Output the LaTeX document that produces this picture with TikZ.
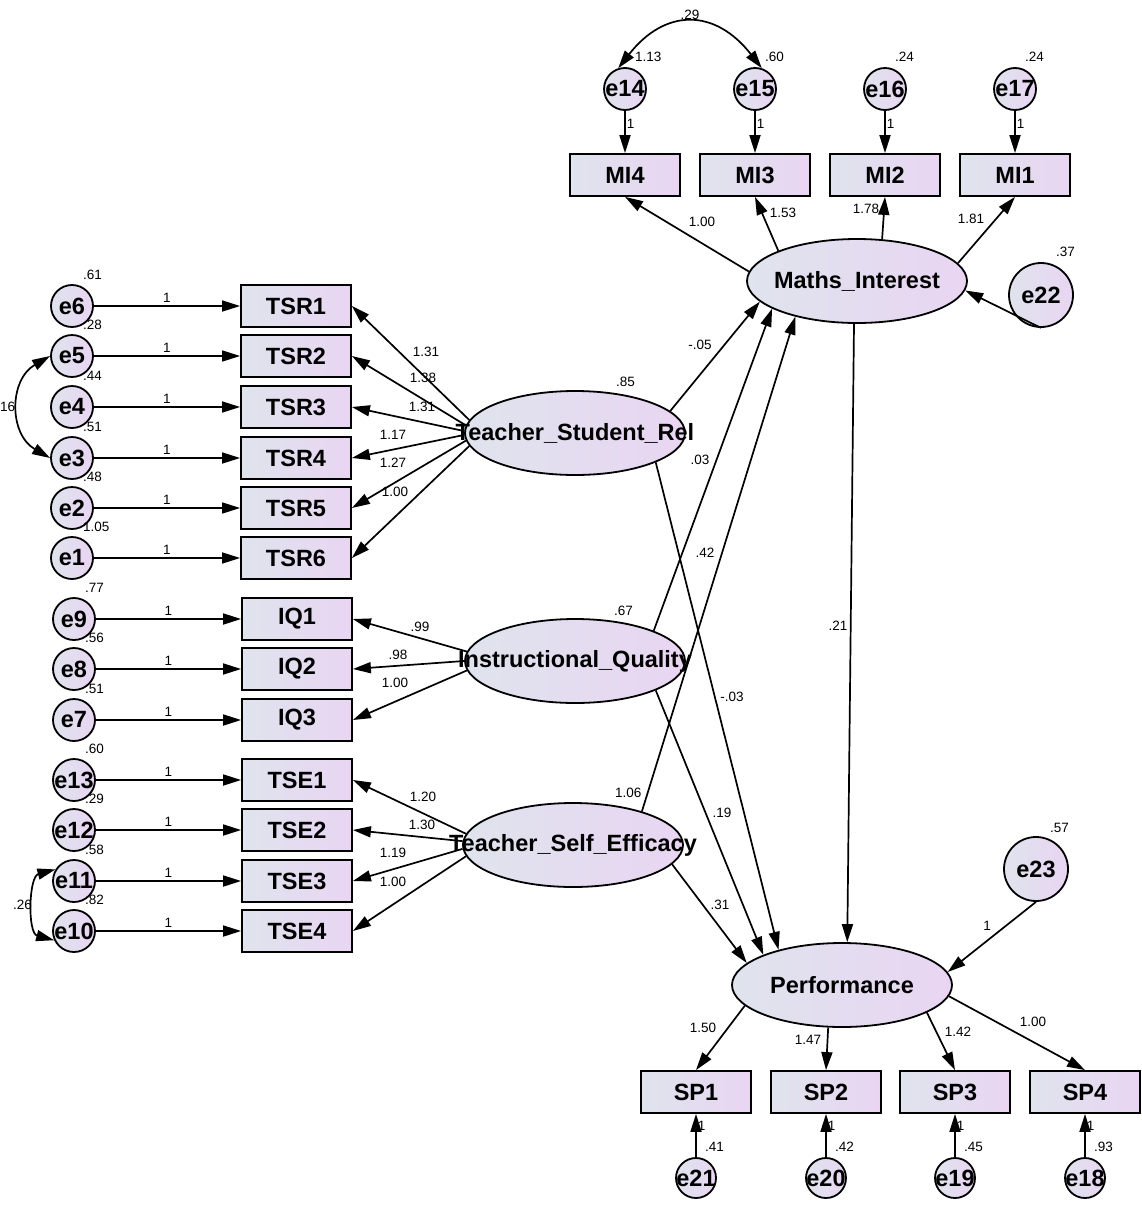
\documentclass[tikz,border=0pt]{standalone}
\usepackage{fontspec}
\setmainfont{Liberation Sans}
\usetikzlibrary{shapes.geometric,arrows.meta}

\definecolor{shadeleft}{RGB}{223,228,237}
\definecolor{shaderight}{RGB}{233,213,242}
\newcommand{\lbl}[1]{\makebox[0pt]{#1}}

\tikzset{
  >={Triangle[length=18pt,width=11pt]},
  num/.style={font=\fontsize{13.5}{15}\selectfont, inner sep=1pt},
  bigtext/.style={font=\fontsize{23.5}{26}\selectfont\bfseries},
  filled/.style={draw, line width=1.8pt, left color=shadeleft, right color=shaderight, inner sep=0pt},
  obs/.style={filled, bigtext, rectangle, minimum width=110pt, minimum height=42pt},
  latent/.style={filled, ellipse, minimum width=220pt, minimum height=84pt},
  err/.style={filled, bigtext, circle, minimum size=42pt},
  reg/.style={->, line width=1.7pt},
  cov/.style={<->, line width=1.7pt}
}

\begin{document}
\begin{tikzpicture}[x=1pt, y=-1pt]
  \useasboundingbox (0,0) rectangle (1142,1207);

  % latent variables
  \node[latent] (mi)   at (857,281) {};
  \node[latent] (tsr)  at (575,433) {};
  \node[latent] (iq)   at (575,661) {};
  \node[latent] (tse)  at (573,845) {};
  \node[latent] (perf) at (842,985) {};
  \node[num, anchor=west] (v-tsr) at (615,382) {.85};
  \node[num, anchor=west] (v-iq)  at (613,611) {.67};
  \node[num, anchor=west] (v-tse) at (614,793) {1.06};

  % teacher-student relation block
  \foreach \n/\e/\y/\v in {1/6/306/.61, 2/5/356/.28, 3/4/407/.44, 4/3/458/.51, 5/2/508/.48, 6/1/558/1.05}{
    \node[obs] (tsr\n) at (296,\y) {TSR\n};
    \node[err] (e\e) at (72,\y) {\lbl{e\e}};
    \node[num, anchor=west] (v\e) at (82,\y-31) {\v};
    \draw[reg] (e\e) -- node[num, above=2pt] {1} (tsr\n);
  }
  \foreach \n/\a/\w/\lx/\ly in {1/173/1.31/426/352, 2/176/1.38/423/378, 3/179/1.31/422/407, 4/181/1.17/393/435, 5/184/1.27/393/463, 6/187/1.00/395/492}{
    \draw[reg] (tsr.\a) -- (tsr\n.east);
    \node[num] (w-tsr\n) at (\lx,\ly) {\w};
  }
  \draw[cov] (e5.180) to[out=210, in=150, looseness=1.2] node[num, left, inner sep=3pt] {16} (e3.180);

  % instructional quality block
  \foreach \n/\e/\y/\v in {1/9/619/.77, 2/8/669/.56, 3/7/720/.51}{
    \node[obs] (iq\n) at (297,\y) {IQ\n};
    \node[err] (e\e) at (74,\y) {\lbl{e\e}};
    \node[num, anchor=west] (v\e) at (84,\y-31) {\v};
    \draw[reg] (e\e) -- node[num, above=2pt] {1} (iq\n);
  }
  \foreach \n/\a/\w/\lx/\ly in {1/175/.99/420/627, 2/180/.98/398/655, 3/185/1.00/395/683}{
    \draw[reg] (iq.\a) -- (iq\n.east);
    \node[num] (w-iq\n) at (\lx,\ly) {\w};
  }

  % teacher self-efficacy block
  \foreach \n/\e/\y/\v in {1/13/780/.60, 2/12/830/.29, 3/11/881/.58, 4/10/931/.82}{
    \node[obs] (tse\n) at (297,\y) {TSE\n};
    \node[err] (e\e) at (74,\y) {\lbl{e\e}};
    \node[num, anchor=west] (v\e) at (84,\y-31) {\v};
    \draw[reg] (e\e) -- node[num, above=2pt] {1} (tse\n);
  }
  \foreach \n/\a/\w/\lx/\ly in {1/174/1.20/423/797, 2/178/1.30/422/825, 3/182/1.19/393/853, 4/186/1.00/393/882}{
    \draw[reg] (tse.\a) -- (tse\n.east);
    \node[num] (w-tse\n) at (\lx,\ly) {\w};
  }
  \draw[cov] (e11.148) to[out=195, in=165] node[num, left, inner sep=2pt] {.26} (e10.205);

  % maths interest block
  \foreach \n/\e/\x/\v/\a/\w/\lx/\ly in {4/14/625/1.13/175/1.00/702/222, 3/15/755/.60/159/1.53/783/213,
                                         2/16/885/.24/59/1.78/866/209, 1/17/1015/.24/10/1.81/971/219}{
    \node[obs] (mi\n) at (\x,175) {MI\n};
    \node[err] (e\e) at (\x,89) {\lbl{e\e}};
    \node[num, anchor=west] (v\e) at (\x+9,57) {\v};
    \draw[reg] (e\e) -- node[num, right, pos=0.3] {1} (mi\n);
    \draw[reg] (mi.\a) -- (mi\n.south);
    \node[num] (w-mi\n) at (\lx,\ly) {\w};
  }
  \draw[cov] (e14.108) to[out=52, in=128, looseness=1.36] node[num, above, inner sep=3pt] {.29} (e15.72);
  \node[err, minimum size=64pt] (e22) at (1041,295) {\lbl{e22}};
  \node[num, anchor=west] (v22) at (1055,252) {.37};
  \draw[reg] (e22.south) -- (mi.-5);

  % performance block
  \foreach \n/\e/\x/\v/\a/\w/\lx/\ly in {1/21/696/.41/192/1.50/703/1028, 2/20/826/.42/252/1.47/808/1040,
                                         3/19/955/.45/342/1.42/958/1032, 4/18/1085/.93/354/1.00/1033/1022}{
    \node[obs] (sp\n) at (\x,1092) {SP\n};
    \node[err, minimum size=40pt] (e\e) at (\x,1178) {\lbl{e\e}};
    \node[num, anchor=west] (v\e) at (\x+8,1147) {\v};
    \draw[reg] (e\e) -- node[num, right, pos=0.72] {1} (sp\n);
    \draw[reg] (perf.\a) -- (sp\n.north);
    \node[num] (w-sp\n) at (\lx,\ly) {\w};
  }
  \node[err, minimum size=64pt] (e23) at (1036,869) {\lbl{e23}};
  \node[num, anchor=west] (v23) at (1049,828) {.57};
  \draw[reg] (e23.south) -- (perf.7);
  \node[num] (w-e23) at (987,926) {1};

  % structural paths
  \draw[reg] (tsr.13)  -- (mi.192);
  \draw[reg] (iq.21)   -- (mi.198);
  \draw[reg] (tse.26)  -- (mi.210);
  \draw[reg] (tsr.-20) -- (perf.151);
  \draw[reg] (iq.-20)  -- (perf.159);
  \draw[reg] (tse.-11) -- (perf.167);
  \draw[reg] (mi.266)  -- (perf.83);
  \node[num] (b1) at (700,345) {-.05};
  \node[num] (b2) at (700,460) {.03};
  \node[num] (b3) at (705,553) {.42};
  \node[num] (b4) at (732,697) {-.03};
  \node[num] (b5) at (722,813) {.19};
  \node[num] (b6) at (720,905) {.31};
  \node[num] (b7) at (838,626) {.21};

  % names of the latent variables
  \node[bigtext] (t-mi)   at (mi)   {Maths\_Interest};
  \node[bigtext] (t-tsr)  at (tsr)  {Teacher\_Student\_Rel};
  \node[bigtext] (t-iq)   at (iq)   {Instructional\_Quality};
  \node[bigtext] (t-tse)  at (tse)  {Teacher\_Self\_Efficacy};
  \node[bigtext] (t-perf) at (perf) {Performance};
\end{tikzpicture}
\end{document}
